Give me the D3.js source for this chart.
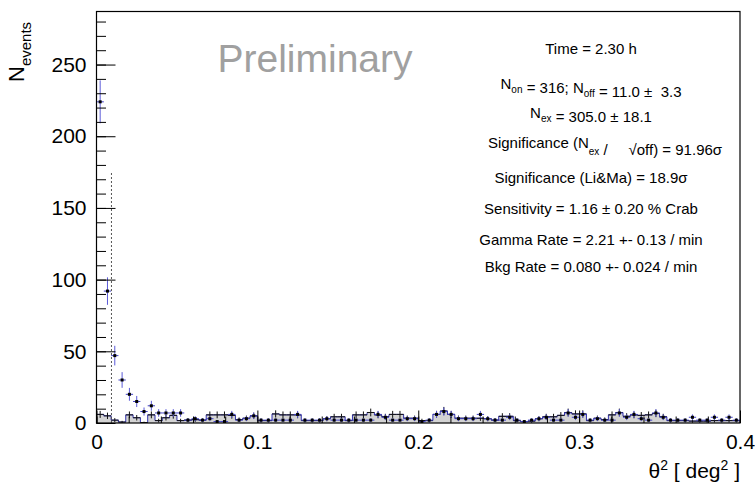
<!DOCTYPE html>
<html>
<head>
<meta charset="utf-8">
<script src="https://cdn.jsdelivr.net/npm/d3@7"></script>
<style>
  body { margin: 0; background: #fff; }
  svg { display: block; }
  text { font-family: "Liberation Sans", Arial, Helvetica, sans-serif; }
</style>
</head>
<body>
<svg id="chart" width="755" height="484"></svg>
<script>
// theta^2 histogram: 88 bins from 0 to 0.4 deg^2
const thetaRange = [0, 0.4];
const onCounts = [
  224, 92, 47, 30, 20, 15, 8, 12, 7, 7, 7, 7, 2, 3, 2, 3, 1, 1, 6, 2,
  3, 5, 2, 2, 2, 2, 2, 6, 2, 2, 2, 3, 2, 2, 2, 2, 2, 2, 6, 4,
  2, 2, 3, 3, 1, 2, 6, 8, 6, 3, 3, 3, 6, 3, 2, 2, 4, 2, 1, 2,
  3, 4, 2, 2, 7, 4, 6, 2, 3, 2, 2, 7, 4, 6, 3, 2, 7, 4, 2, 2,
  2, 4, 2, 2, 4, 2, 4, 2
];
const offCounts = [
  6.00, 5.00, 2.00, 0.67, 5.67, 3.67, 0.33, 5.67, 1.67, 3.67, 5.33, 1.67, 2.00, 2.33, 2.00, 5.67, 5.67, 5.67, 5.33, 2.33,
  3.33, 5.00, 1.67, 1.67, 6.33, 5.67, 5.67, 5.67, 1.67, 1.67, 1.67, 3.00, 4.33, 4.33, 1.67, 5.67, 5.67, 7.33, 5.67, 4.33,
  6.00, 6.00, 3.33, 3.33, 1.67, 1.67, 6.00, 8.33, 6.00, 3.33, 3.33, 3.33, 3.33, 3.00, 2.00, 4.67, 4.67, 1.67, 1.00, 1.33,
  3.00, 4.33, 4.33, 5.33, 7.33, 6.33, 6.33, 1.67, 3.33, 2.33, 5.67, 7.33, 4.67, 5.67, 5.33, 5.67, 6.67, 4.33, 1.67, 1.67,
  1.67, 1.33, 1.33, 1.33, 1.67, 1.67, 1.67, 1.67
];
const yMax = 287;
const xTicks = [0, 0.1, 0.2, 0.3, 0.4];
const xMinorTicks = d3.range(0, 21).map(i => +(i * 0.02).toFixed(2));
const yTicks = [0, 50, 100, 150, 200, 250];
const yMinorTicks = d3.range(0, 29).map(i => i * 10);
const cutTheta2 = 0.0093;
const cutLineHeight = 175;
const watermark = "Preliminary";
const infoLines = [
  "Time = 2.30 h",
  "N_{on} = 316; N_{off} = 11.0 \u00b1  3.3",
  "N_{ex} = 305.0 \u00b1 18.1",
  "Significance (N_{ex} /     \u221aoff) = 91.96\u03c3",
  "Significance (Li&Ma) = 18.9\u03c3",
  "Sensitivity = 1.16 \u00b1 0.20 % Crab",
  "Gamma Rate = 2.21 +- 0.13 / min",
  "Bkg Rate = 0.080 +- 0.024 / min"
];

// frame geometry
const frame = { left: 96.5, right: 740, top: 11.5, bottom: 423 };
const svg = d3.select("#chart");

const x = d3.scaleLinear().domain(thetaRange).range([frame.left, frame.right]);
const y = d3.scaleLinear().domain([0, yMax]).range([frame.bottom, frame.top]);

const nBins = onCounts.length;
const binW = (thetaRange[1] - thetaRange[0]) / nBins;
const bins = d3.range(nBins).map(i => ({
  lo: thetaRange[0] + i * binW,
  hi: thetaRange[0] + (i + 1) * binW,
  mid: thetaRange[0] + (i + 0.5) * binW,
  on: onCounts[i],
  off: offCounts[i]
}));

svg.append("defs").append("clipPath").attr("id", "plotArea")
  .append("rect")
  .attr("x", frame.left).attr("y", frame.top)
  .attr("width", frame.right - frame.left)
  .attr("height", frame.bottom - frame.top);

const plot = svg.append("g").attr("clip-path", "url(#plotArea)");

// OFF histogram: grey fill with blue step outline
const stepPts = [[thetaRange[0], 0]];
bins.forEach(b => { stepPts.push([b.lo, b.off]); });
stepPts.push([thetaRange[1], bins[nBins - 1].off]);
stepPts.push([thetaRange[1], 0]);

const area = d3.area().curve(d3.curveStepAfter)
  .x(d => x(d[0])).y0(y(0)).y1(d => y(d[1]));
plot.append("path").datum(stepPts)
  .attr("d", area).attr("fill", "#d3d3d3").attr("stroke", "none");

const line = d3.line().curve(d3.curveStepAfter)
  .x(d => x(d[0])).y(d => y(d[1]));
plot.append("path").datum(stepPts)
  .attr("d", line).attr("fill", "none")
  .attr("stroke", "#3030b0").attr("stroke-width", 1);

// OFF error bars
const offErr = plot.append("g").attr("stroke", "#111").attr("stroke-width", 1);
bins.forEach(b => {
  const e = Math.sqrt(b.off);
  offErr.append("line")
    .attr("x1", x(b.mid)).attr("x2", x(b.mid))
    .attr("y1", y(b.off - e)).attr("y2", y(b.off + e));
  offErr.append("line")
    .attr("x1", x(b.lo)).attr("x2", x(b.hi))
    .attr("y1", y(b.off)).attr("y2", y(b.off));
});

// ON points: blue error bars with black markers
const onG = plot.append("g");
bins.forEach(b => {
  const e = Math.sqrt(b.on);
  onG.append("line")
    .attr("x1", x(b.mid)).attr("x2", x(b.mid))
    .attr("y1", y(Math.max(0, b.on - e))).attr("y2", y(b.on + e))
    .attr("stroke", "#5a5ad8").attr("stroke-width", 1);
  onG.append("line")
    .attr("x1", x(b.lo)).attr("x2", x(b.hi))
    .attr("y1", y(b.on)).attr("y2", y(b.on))
    .attr("stroke", "#4040c8").attr("stroke-width", 1);
  onG.append("rect")
    .attr("x", x(b.mid) - 1.5).attr("y", y(b.on) - 1.5)
    .attr("width", 3).attr("height", 3).attr("fill", "#000");
});

// signal cut
plot.append("line")
  .attr("x1", x(cutTheta2)).attr("x2", x(cutTheta2))
  .attr("y1", y(0)).attr("y2", y(cutLineHeight))
  .attr("stroke", "#555").attr("stroke-width", 1)
  .attr("stroke-dasharray", "2,2");

// frame
svg.append("rect")
  .attr("x", frame.left).attr("y", frame.top)
  .attr("width", frame.right - frame.left)
  .attr("height", frame.bottom - frame.top)
  .attr("fill", "none").attr("stroke", "#000").attr("stroke-width", 1.2);

// axes with inward ticks
const fmtX = d3.format("~g");
const xAxis = svg.append("g").attr("transform", `translate(0,${frame.bottom})`)
  .call(d3.axisBottom(x).tickValues(xTicks).tickFormat(fmtX)
    .tickSizeInner(-12.5).tickSizeOuter(0).tickPadding(11));
const xMinor = svg.append("g").attr("transform", `translate(0,${frame.bottom})`)
  .call(d3.axisBottom(x).tickValues(xMinorTicks).tickFormat("")
    .tickSizeInner(-6.5).tickSizeOuter(0));
const yAxis = svg.append("g").attr("transform", `translate(${frame.left},0)`)
  .call(d3.axisLeft(y).tickValues(yTicks).tickFormat(d3.format("d"))
    .tickSizeInner(-19).tickSizeOuter(0).tickPadding(10));
const yMinor = svg.append("g").attr("transform", `translate(${frame.left},0)`)
  .call(d3.axisLeft(y).tickValues(yMinorTicks).tickFormat("")
    .tickSizeInner(-9.5).tickSizeOuter(0));
[xAxis, xMinor, yAxis, yMinor].forEach(g => {
  g.select(".domain").remove();
  g.selectAll(".tick line").attr("stroke", "#000").attr("stroke-width", 1);
  g.selectAll("text").attr("fill", "#000").attr("font-size", 21)
    .attr("font-family", "\"Liberation Sans\", Arial, sans-serif");
});

// axis titles
const xt = svg.append("text").attr("x", 740).attr("y", 478)
  .attr("text-anchor", "end").attr("font-size", 21).attr("fill", "#000");
xt.append("tspan").text("\u03b8");
xt.append("tspan").attr("font-size", 14).attr("dy", -8).text("2");
xt.append("tspan").attr("dy", 8).text(" [ deg");
xt.append("tspan").attr("font-size", 14).attr("dy", -8).text("2");
xt.append("tspan").attr("dy", 8).text(" ]");

const yt = svg.append("text")
  .attr("transform", "translate(24,82) rotate(-90)")
  .attr("text-anchor", "start").attr("font-size", 22).attr("fill", "#000");
yt.append("tspan").text("N");
yt.append("tspan").attr("font-size", 15).attr("dy", 7).text("events");

// watermark
svg.append("text").attr("x", 315).attr("y", 72)
  .attr("text-anchor", "middle").attr("font-size", 39)
  .attr("fill", "#a0a0a0").text(watermark);

// statistics block
const infoBaselines = [54, 89, 118, 148, 183, 213.5, 244.5, 272];
infoLines.forEach((s, i) => {
  const t = svg.append("text").attr("x", i === 3 ? 605 : 591).attr("y", infoBaselines[i])
    .attr("text-anchor", "middle").attr("font-size", 15).attr("fill", "#000")
    .style("white-space", "pre");
  const parts = s.split(/(_\{[^}]*\})/).filter(p => p.length);
  parts.forEach(p => {
    if (p.startsWith("_{")) {
      const sub = p.slice(2, -1);
      const drop = i === 3 ? 7 : 4;
      t.append("tspan").attr("font-size", 10).attr("dy", drop).text(sub);
      t.append("tspan").attr("dy", -drop).text("");
    } else {
      t.append("tspan").text(p);
    }
  });
});
</script>
</body>
</html>
